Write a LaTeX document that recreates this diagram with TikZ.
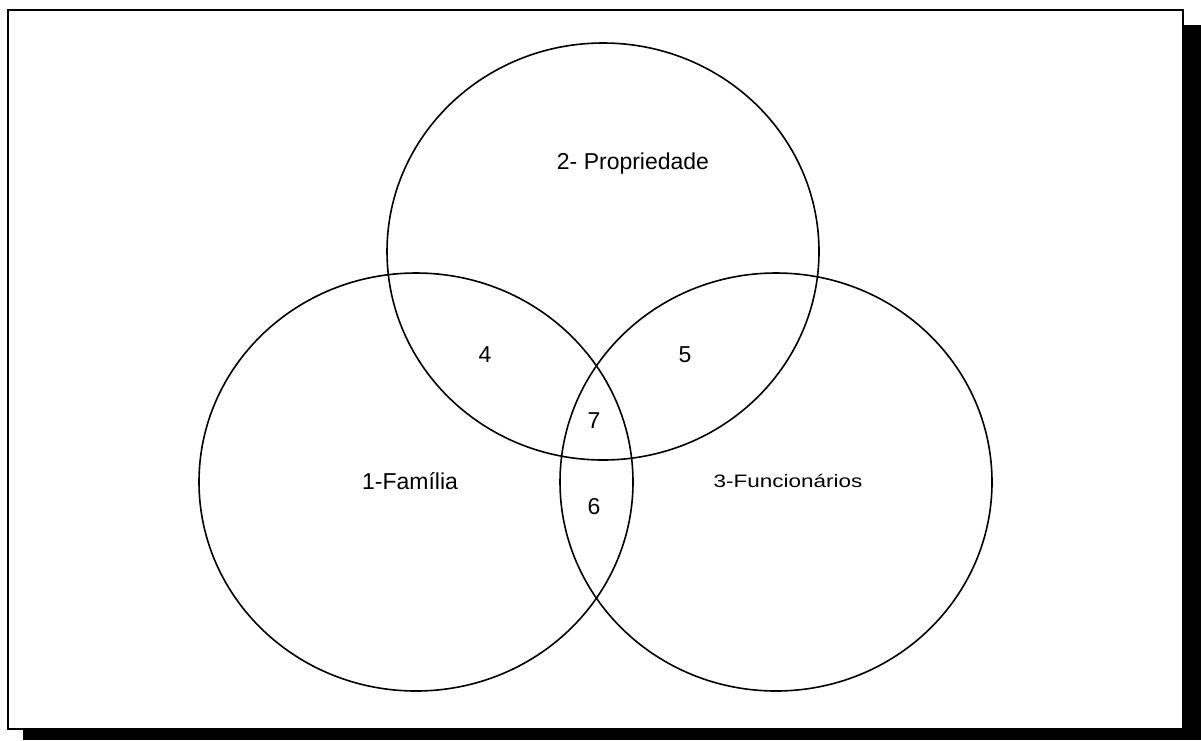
\documentclass[tikz,border=0pt]{standalone}
\usepackage{fontspec}
\setmainfont{Liberation Sans}
\begin{document}
\begin{tikzpicture}[x=1pt,y=-1pt,
  venn/.style={draw=black,line width=1.6pt},
  big/.style={font=\fontsize{23}{27}\selectfont,inner sep=0pt},
  small/.style={font=\fontsize{18}{21}\selectfont,inner sep=0pt,xscale=1.25}]
\useasboundingbox (0,0) rectangle (1201,740);
% shadow and frame
\fill[black] (23,25) rectangle (1201,740);
\draw[fill=white,line width=2pt] (8,10) rectangle (1183,729);
% sets
\draw[venn] (603,251.5) ellipse [x radius=216,y radius=208.5];
\draw[venn] (416,482) ellipse [x radius=217,y radius=209];
\draw[venn] (776,482) ellipse [x radius=216,y radius=209];
% labels
\node[big] (prop) at (633,164) {2- Propriedade};
\node[big] (fam) at (410,481) {1-Família};
\node[small] (func) at (788,481) {3-Funcionários};
\node[big] (n4) at (485,355) {4};
\node[big] (n5) at (685,355) {5};
\node[big] (n7) at (594,421) {7};
\node[big] (n6) at (594,507) {6};
\end{tikzpicture}
\end{document}
